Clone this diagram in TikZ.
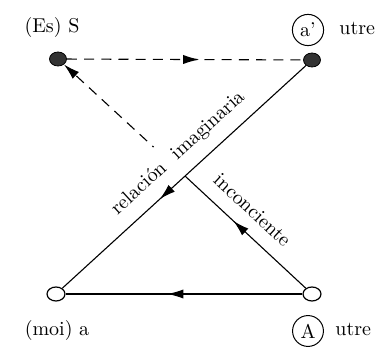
\documentclass[tikz,border=0pt]{standalone}
\usepackage{tikz}
\usetikzlibrary{arrows.meta,shapes.geometric,decorations.markings}

\begin{document}
\begin{tikzpicture}[x=0.5pt, y=-0.5pt,
  full/.style={draw, fill=black!80, ellipse, minimum width=8.5pt,
    minimum height=7pt, inner sep=0pt},
  hollow/.style={draw, fill=white, ellipse, minimum width=9pt,
    minimum height=7pt, inner sep=0pt, line width=0.6pt},
  ring/.style={draw, circle, inner sep=1.8pt, line width=0.5pt},
  line/.style={line width=0.55pt},
  dashline/.style={line width=0.55pt, dash pattern=on 5pt off 3.6pt},
  tip/.style={-{Latex[length=8pt, width=4.6pt]}},
  midarrow/.style={postaction={decorate}, decoration={markings,
    mark=at position #1 with {\arrow{Latex[length=8pt, width=4.6pt]}}}},
  every node/.style={font=\normalsize}
]
\useasboundingbox (0,0) rectangle (392,347);

% the four places
\node[full] (es) at (58,59) {};
\node[full] (aut) at (312,60) {};
\node[hollow] (moi) at (56,294) {};
\node[hollow] (Aut) at (312,294) {};

% names
\node[anchor=base] (esLabel) at (52,33) {(Es) S};
\node[ring] (aRing) at (308,30) {a'};
\node[anchor=base west, inner sep=0pt] (aUtre) at (339,35) {utre};
\node[anchor=base] (moiLabel) at (57,336) {(moi) a};
\node[ring] (ARing) at (308,331) {A};
\node[anchor=base west, inner sep=0pt] (AUtre) at (335,336) {utre};

% crossing of the two diagonals
\coordinate (cross) at (185,176);

\draw[dashline, midarrow=0.56] (es) -- (aut);
\draw[dashline, tip] (cross) -- (es);
\path (moi) -- (aut) node[pos=0.535, sloped, above, fill=white, inner sep=6pt] (relLabel) {relaci\'on\ \ imaginaria};
\draw[line, midarrow=0.6] (aut) -- (moi);
\draw[line, midarrow=0.57] (Aut) -- (moi);
\draw[line, midarrow=0.6] (Aut) -- (cross);
\path (es) -- (Aut) node[pos=0.72, sloped, above, inner sep=7pt] (incLabel) {inconciente};
\end{tikzpicture}
\end{document}
